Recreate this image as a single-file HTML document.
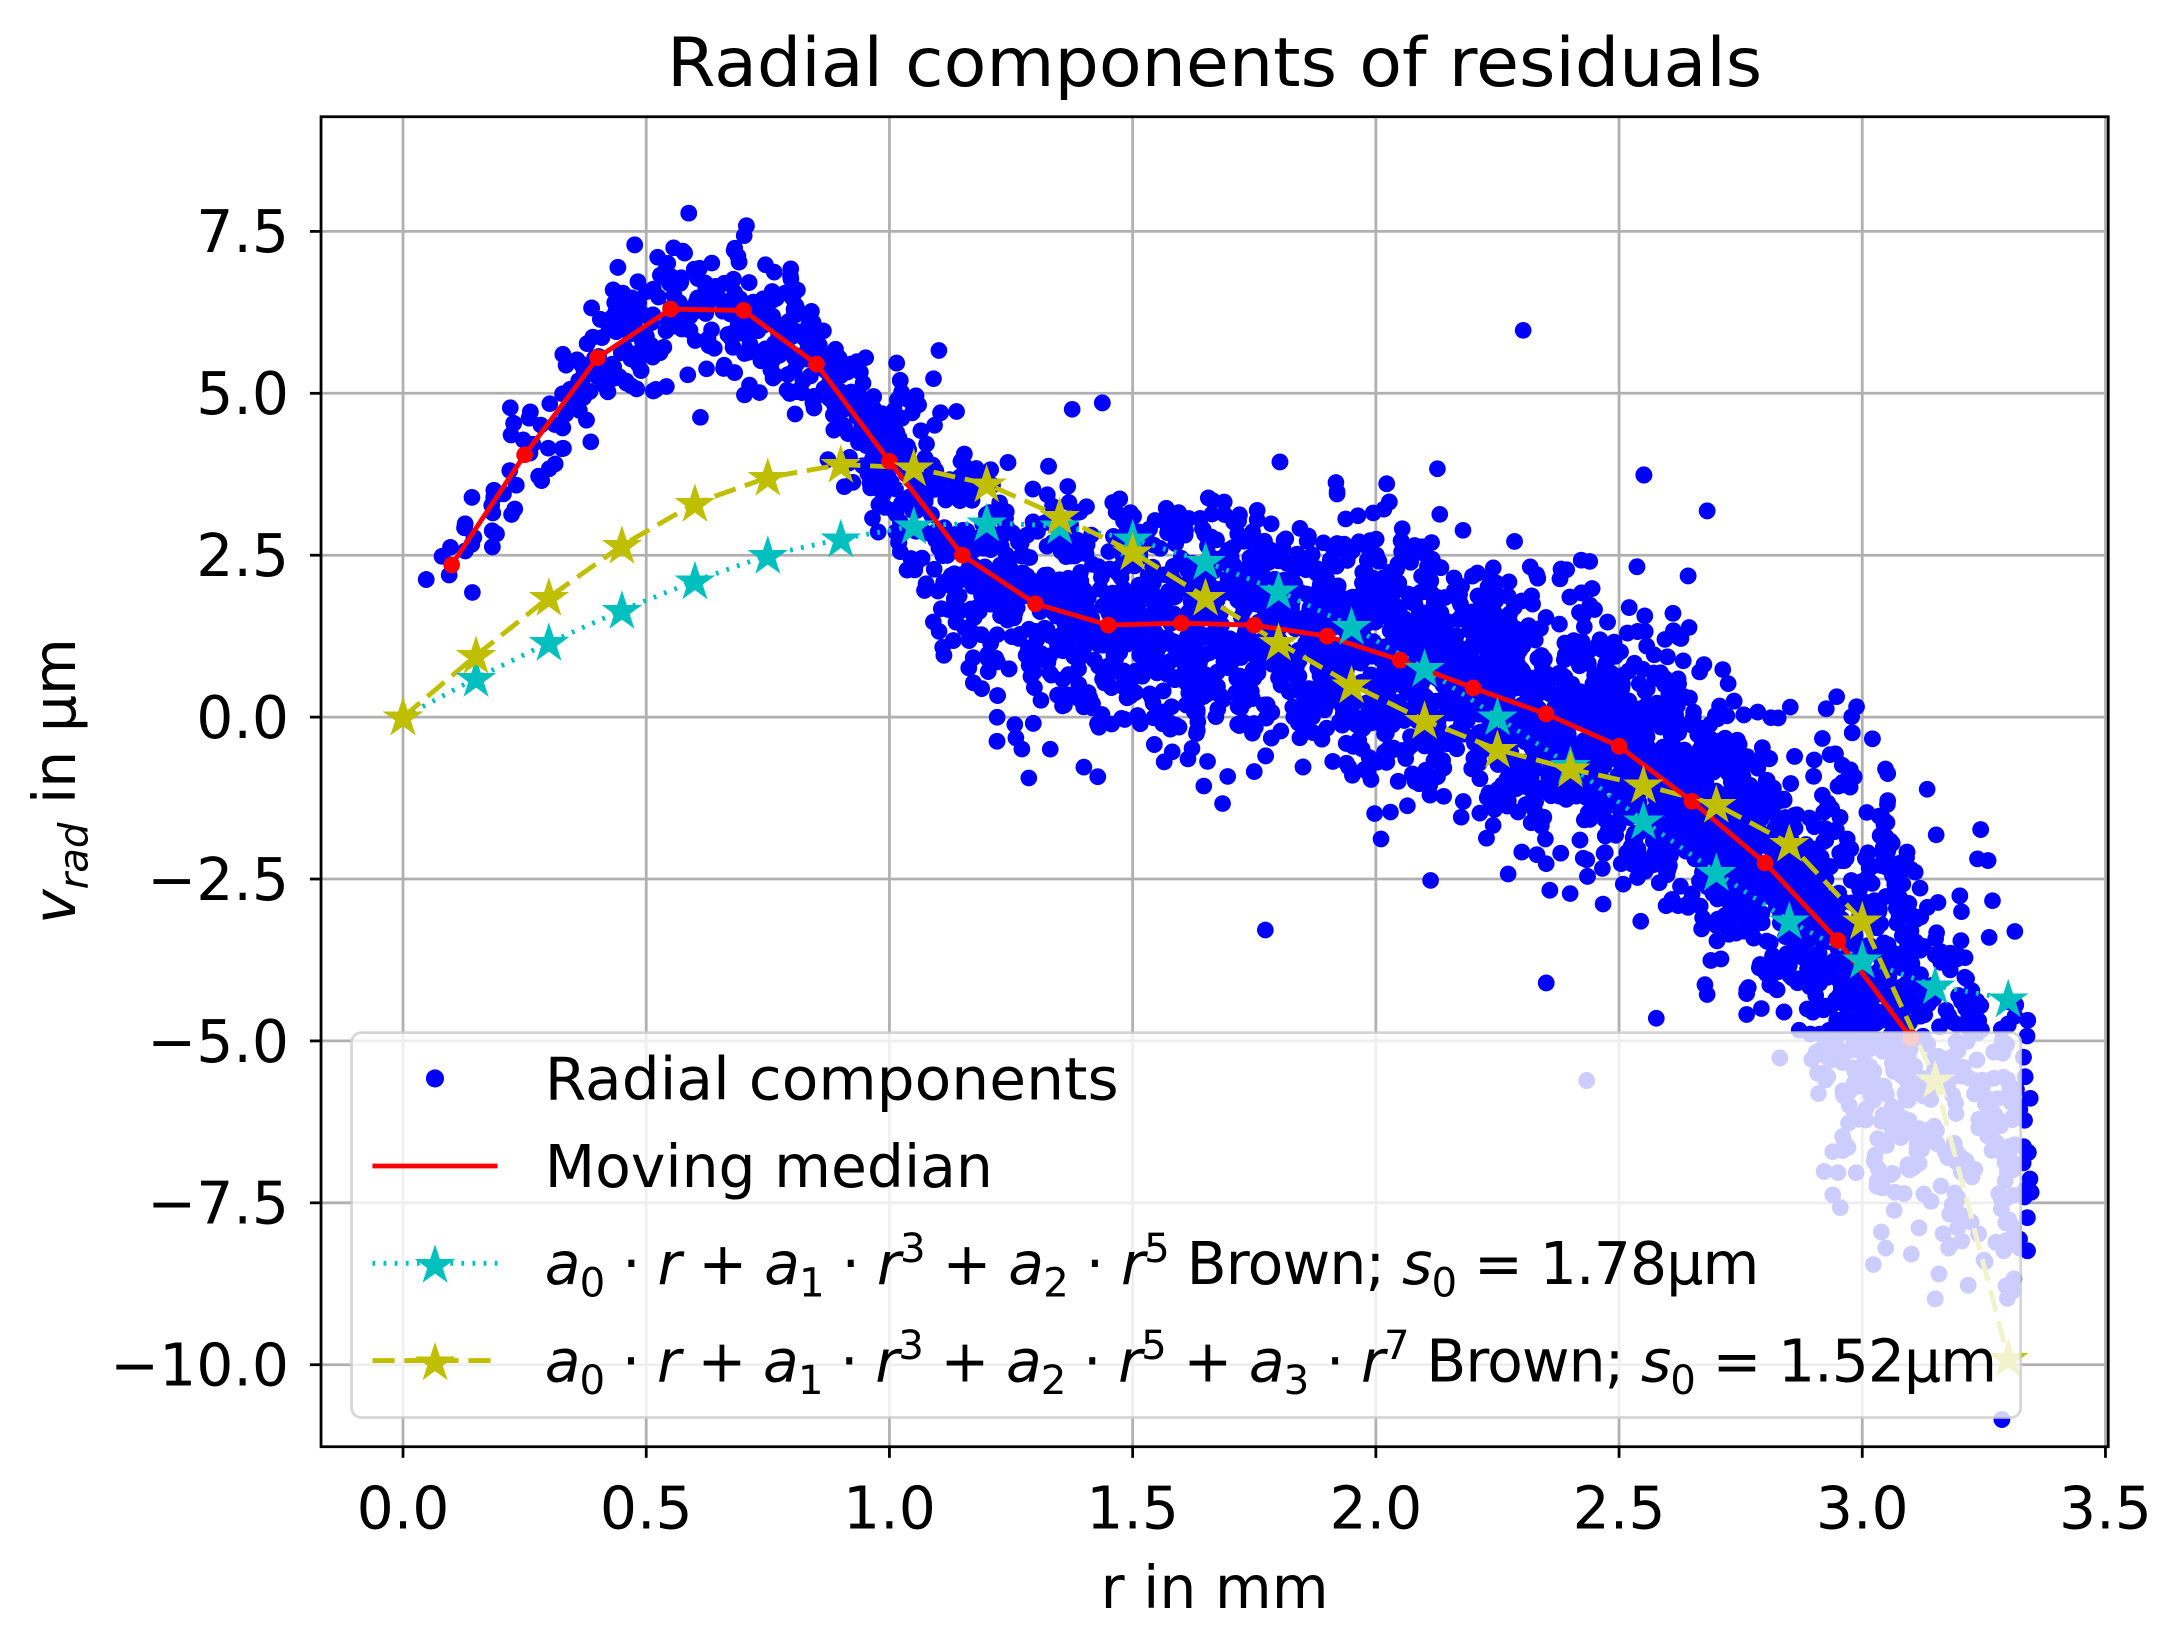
<!DOCTYPE html>
<html><head><meta charset="utf-8"><style>
html,body{margin:0;padding:0;background:#fff;}
svg{display:block;}
text{font-family:"DejaVu Sans","Liberation Sans",sans-serif;fill:#000;}
</style></head><body>
<svg id="s" width="2168" height="1626" viewBox="0 0 1560 1170" xmlns="http://www.w3.org/2000/svg">
<defs><clipPath id="c"><rect x="231" y="84" width="1286" height="957"/></clipPath></defs>
<rect width="1560" height="1170" fill="#fff"/>
<g id="grid" stroke="#b0b0b0" stroke-width="2"></g>
<g id="pts" clip-path="url(#c)" fill="#0000ff"></g>
<g id="lines" clip-path="url(#c)"></g>
<rect x="253" y="743" width="1201" height="277" rx="7" fill="#fff" fill-opacity="0.8" stroke="#cccccc" stroke-opacity="0.8" stroke-width="2"/>
<rect x="231" y="84" width="1286" height="957" fill="none" stroke="#000" stroke-width="2"/>
<g id="ticks" font-size="42"></g>
<text x="874" y="62" font-size="49" text-anchor="middle" textLength="788" lengthAdjust="spacingAndGlyphs">Radial components of residuals</text>
<text x="874" y="1157" font-size="42" text-anchor="middle">r in mm</text>
<text transform="translate(54,562) rotate(-90)" font-size="42" text-anchor="middle"><tspan font-style="italic">v</tspan><tspan font-style="italic" font-size="29" dy="9">rad</tspan><tspan dy="-9"> in µm</tspan></text>
<g font-size="42">
<circle cx="313" cy="776" r="6.5" fill="#0000ff"/>
<text x="392" y="791" textLength="413" lengthAdjust="spacingAndGlyphs">Radial components</text>
<line x1="268" y1="839" x2="358" y2="839" stroke="#ff0000" stroke-width="3.5"/>
<text x="392" y="854">Moving median</text>
<line x1="268" y1="909" x2="358" y2="909" stroke="#00bfbf" stroke-width="3.5" stroke-dasharray="2,6"/>
<text x="313" y="923" font-size="38" text-anchor="middle" style="fill:#00bfbf">★</text>
<text x="392" y="924" textLength="874" lengthAdjust="spacing"><tspan font-style="italic">a</tspan><tspan font-size="29" dy="9">0</tspan><tspan dy="-9"> · </tspan><tspan font-style="italic">r</tspan> + <tspan font-style="italic">a</tspan><tspan font-size="29" dy="9">1</tspan><tspan dy="-9"> · </tspan><tspan font-style="italic">r</tspan><tspan font-size="29" dy="-16">3</tspan><tspan dy="16"> + </tspan><tspan font-style="italic">a</tspan><tspan font-size="29" dy="9">2</tspan><tspan dy="-9"> · </tspan><tspan font-style="italic">r</tspan><tspan font-size="29" dy="-16">5</tspan><tspan dy="16"> Brown; </tspan><tspan font-style="italic">s</tspan><tspan font-size="29" dy="9">0</tspan><tspan dy="-9"> = 1.78µm</tspan></text>
<line x1="268" y1="979" x2="358" y2="979" stroke="#bfbf00" stroke-width="3.5" stroke-dasharray="16,7"/>
<text x="313" y="993" font-size="38" text-anchor="middle" style="fill:#bfbf00">★</text>
<text x="392" y="994" textLength="1045" lengthAdjust="spacing"><tspan font-style="italic">a</tspan><tspan font-size="29" dy="9">0</tspan><tspan dy="-9"> · </tspan><tspan font-style="italic">r</tspan> + <tspan font-style="italic">a</tspan><tspan font-size="29" dy="9">1</tspan><tspan dy="-9"> · </tspan><tspan font-style="italic">r</tspan><tspan font-size="29" dy="-16">3</tspan><tspan dy="16"> + </tspan><tspan font-style="italic">a</tspan><tspan font-size="29" dy="9">2</tspan><tspan dy="-9"> · </tspan><tspan font-style="italic">r</tspan><tspan font-size="29" dy="-16">5</tspan><tspan dy="16"> + </tspan><tspan font-style="italic">a</tspan><tspan font-size="29" dy="9">3</tspan><tspan dy="-9"> · </tspan><tspan font-style="italic">r</tspan><tspan font-size="29" dy="-16">7</tspan><tspan dy="16"> Brown; </tspan><tspan font-style="italic">s</tspan><tspan font-size="29" dy="9">0</tspan><tspan dy="-9"> = 1.52µm</tspan></text>
</g>
</svg>
<script>
var NS="http://www.w3.org/2000/svg";
function X(v){return 290+350*v;} function Y(v){return 516-46.6*v;}
function el(p,t,a,txt){var e=document.createElementNS(NS,t);for(var k in a)e.setAttribute(k,a[k]);if(txt!==undefined)e.textContent=txt;p.appendChild(e);return e;}
var grid=document.getElementById('grid'),ticks=document.getElementById('ticks');
for(var i=0;i<=7;i++){var v=i*0.5,x=X(v);el(grid,'line',{x1:x,x2:x,y1:84,y2:1041});
 el(ticks,'line',{x1:x,x2:x,y1:1041,y2:1049,stroke:'#000','stroke-width':2});
 el(ticks,'text',{x:x,y:1100,'text-anchor':'middle'},v.toFixed(1));}
for(var i=-4;i<=3;i++){var v=i*2.5,y=Y(v);el(grid,'line',{x1:231,x2:1517,y1:y,y2:y});
 el(ticks,'line',{x1:223,x2:231,y1:y,y2:y,stroke:'#000','stroke-width':2});
 el(ticks,'text',{x:208,y:y+15,'text-anchor':'end'},(v<0?'\u2212':'')+Math.abs(v).toFixed(1));}
var med=[[0.1,2.35],[0.25,4.05],[0.4,5.55],[0.55,6.3],[0.7,6.28],[0.85,5.45],[1.0,3.95],[1.15,2.5],[1.3,1.75],[1.45,1.42],[1.6,1.45],[1.75,1.42],[1.9,1.25],[2.05,0.88],[2.2,0.45],[2.35,0.05],[2.5,-0.45],[2.65,-1.3],[2.8,-2.25],[2.95,-3.45],[3.1,-4.95]];
var cy=[[0,0],[0.15,0.6],[0.3,1.15],[0.45,1.65],[0.6,2.1],[0.75,2.5],[0.9,2.75],[1.05,2.95],[1.2,3.0],[1.35,2.95],[1.5,2.75],[1.65,2.4],[1.8,1.95],[1.95,1.4],[2.1,0.75],[2.25,0.0],[2.4,-0.75],[2.55,-1.6],[2.7,-2.4],[2.85,-3.15],[3.0,-3.75],[3.15,-4.15],[3.3,-4.35]];
var yl=[[0,0],[0.15,0.95],[0.3,1.85],[0.45,2.65],[0.6,3.3],[0.75,3.7],[0.9,3.9],[1.05,3.85],[1.2,3.6],[1.35,3.1],[1.5,2.55],[1.65,1.85],[1.8,1.15],[1.95,0.5],[2.1,-0.05],[2.25,-0.5],[2.4,-0.8],[2.55,-1.05],[2.7,-1.35],[2.85,-1.95],[3.0,-3.15],[3.15,-5.6],[3.3,-9.9]];
var seed=12345;function rnd(){seed=(seed*1103515245+12345)%2147483648;return seed/2147483648;}
function gau(){return Math.sqrt(-2*Math.log(rnd()+1e-9))*Math.cos(6.2832*rnd());}
var mext=med.concat([[3.25,-6.0],[3.4,-7.2]]);
function interp(a,x){if(x<=a[0][0]){var s=(a[1][1]-a[0][1])/(a[1][0]-a[0][0]);return a[0][1]+s*(x-a[0][0]);}
 for(var i=0;i<a.length-1;i++)if(x<=a[i+1][0]){var t=(x-a[i][0])/(a[i+1][0]-a[i][0]);return a[i][1]+t*(a[i+1][1]-a[i][1]);}return a[a.length-1][1];}
var pts=document.getElementById('pts'),s='';
for(var n=0;n<6000;n++){var x=3.35*Math.sqrt(rnd());if(x<0.02)continue;
 if(x>3.1&&rnd()<0.6)continue;
 var sd=x<1.0?0.5:(x<1.15?0.9:(x<2.9?0.95:1.5));var y=interp(mext,x)+sd*gau();
 if(rnd()<0.015)y+=gau()*2.2;
 s+='<circle cx="'+X(x).toFixed(1)+'" cy="'+Y(y).toFixed(1)+'" r="6"/>';}
pts.innerHTML=s;
var L=document.getElementById('lines');
function poly(a){return a.map(function(p){return X(p[0]).toFixed(1)+','+Y(p[1]).toFixed(1)}).join(' ');}
el(L,'polyline',{points:poly(cy),fill:'none',stroke:'#00bfbf','stroke-width':3.5,'stroke-dasharray':'2,6'});
el(L,'polyline',{points:poly(yl),fill:'none',stroke:'#bfbf00','stroke-width':3.5,'stroke-dasharray':'16,7'});
el(L,'polyline',{points:poly(med),fill:'none',stroke:'#ff0000','stroke-width':3.5});
med.forEach(function(p){el(L,'circle',{cx:X(p[0]),cy:Y(p[1]),r:6,fill:'#ff0000'});});
function star(p,c){el(L,'text',{x:X(p[0]),y:Y(p[1])+13,'font-size':38,'text-anchor':'middle',style:'fill:'+c},'\u2605');}
cy.forEach(function(p){star(p,'#00bfbf');});
yl.forEach(function(p){star(p,'#bfbf00');});
</script>
</body></html>
